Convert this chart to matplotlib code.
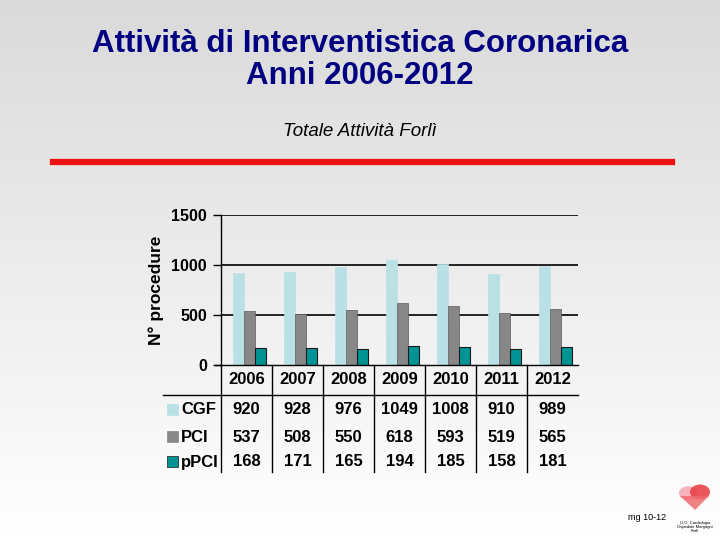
import numpy as np
import matplotlib
matplotlib.use("Agg")
import matplotlib.pyplot as plt
import matplotlib.transforms as mtransforms
from matplotlib.patches import Rectangle, Circle, Polygon

plt.rcParams['font.family'] = ['Liberation Sans', 'DejaVu Sans']

years = ["2006", "2007", "2008", "2009", "2010", "2011", "2012"]
series_names = ["CGF", "PCI", "pPCI"]
cgf = [920, 928, 976, 1049, 1008, 910, 989]
pci = [537, 508, 550, 618, 593, 519, 565]
ppci = [168, 171, 165, 194, 185, 158, 181]
yticks = [0, 500, 1000, 1500]

colors = ["#b9e0e5", "#878787", "#009393"]
edges = ["#b9e0e5", "#5a5a5a", "#1a1a1a"]

W, H = 720, 540
fig = plt.figure(figsize=(7.2, 5.4), dpi=100)

def fx(x):
    return x / W

def fy(y):
    return 1 - y / H

# background gradient
bg = fig.add_axes([0, 0, 1, 1], zorder=-10)
grad = np.linspace(0, 1, 256).reshape(-1, 1)
top = np.array([0.855, 0.855, 0.855])
bot = np.array([1.0, 1.0, 1.0])
img = top[None, None, :] * (1 - grad[:, :, None]) + bot[None, None, :] * grad[:, :, None]
bg.imshow(img, aspect='auto', extent=[0, 1, 0, 1], origin='upper')
bg.set_xlim(0, 1)
bg.set_ylim(0, 1)
bg.axis('off')

# titles
fig.text(0.5, fy(44), "Attività di Interventistica Coronarica", ha='center', va='center',
         fontsize=22.5, fontweight='bold', color='#000080')
fig.text(0.5, fy(76), "Anni 2006-2012", ha='center', va='center',
         fontsize=22.5, fontweight='bold', color='#000080')
fig.text(0.5, fy(132), "Totale Attività Forlì", ha='center', va='center',
         fontsize=13.5, style='italic', color='black')
fig.add_artist(plt.Line2D([fx(53), fx(672)], [fy(162), fy(162)], color='#ee1111', lw=4.5,
                          transform=fig.transFigure))

# main axes
ax_l, ax_r, ax_t, ax_b = 221, 578, 215, 365
ax = fig.add_axes([fx(ax_l), fy(ax_b), fx(ax_r - ax_l), fy(ax_t) - fy(ax_b)])
ax.patch.set_alpha(0)
x = np.arange(len(years))
bw = 0.215
ax.bar(x - bw + 0.06, cgf, bw, color=colors[0], edgecolor=edges[0], lw=0.5, zorder=3)
ax.bar(x + 0.06, pci, bw, color=colors[1], edgecolor=edges[1], lw=0.5, zorder=3)
ax.bar(x + bw + 0.06, ppci, bw, color=colors[2], edgecolor=edges[2], lw=0.8, zorder=3)
ax.set_xlim(-0.5, len(years) - 0.5)
ax.set_ylim(0, 1500)
ax.set_yticks(yticks)
ax.set_yticklabels([str(t) for t in yticks], fontsize=11.5, fontweight='bold')
ax.set_xticks([])
for t in yticks[1:]:
    ax.axhline(t, color='black', lw=1.2, zorder=1)
for s in ['top', 'right', 'bottom']:
    ax.spines[s].set_visible(False)
ax.spines['left'].set_linewidth(1.0)
ax.tick_params(axis='y', length=6, width=1, pad=4)
ax.set_ylabel("N° procedure", fontsize=12.5, fontweight='bold', labelpad=5)

# data table
tr = mtransforms.blended_transform_factory(ax.transData, fig.transFigure)
line_kw = dict(color='black', lw=1.0)
fig.add_artist(plt.Line2D([fx(215), fx(578)], [fy(365), fy(365)], transform=fig.transFigure, **line_kw))
fig.add_artist(plt.Line2D([fx(163), fx(578)], [fy(395), fy(395)], transform=fig.transFigure, **line_kw))
for i in range(len(years)):
    xb = -0.5 + i
    fig.add_artist(plt.Line2D([xb, xb], [fy(365), fy(472)], transform=tr, **line_kw))

for i, yr in enumerate(years):
    fig.text(i, fy(380), yr, transform=tr, ha='center', va='center', fontsize=12, fontweight='bold')

rows = [cgf, pci, ppci]
row_y = [410, 437, 462]
for r, (name, vals, yy) in enumerate(zip(series_names, rows, row_y)):
    fig.add_artist(Rectangle((fx(167), fy(yy + 5)), fx(11), fy(yy - 6) - fy(yy + 5),
                             facecolor=colors[r], edgecolor=edges[r] if r == 2 else colors[r],
                             lw=0.5, transform=fig.transFigure))
    fig.text(fx(181), fy(yy), name, ha='left', va='center', fontsize=12, fontweight='bold')
    for i, v in enumerate(vals):
        fig.text(i, fy(yy), str(v), transform=tr, ha='center', va='center', fontsize=12,
                 fontweight='bold')

# footer
fig.text(fx(628), fy(517), "mg 10-12", ha='left', va='center', fontsize=6.5)
for cx, cy, r, c in [(688, 493, 9, '#f4a7b4'), (700, 492, 10, '#e8393f')]:
    fig.add_artist(Circle((fx(cx), fy(cy)), r / W, facecolor=c, edgecolor='none',
                          alpha=0.85, transform=fig.transFigure))
fig.add_artist(Polygon([(fx(680), fy(496)), (fx(709), fy(496)), (fx(695), fy(510))],
                       closed=True, facecolor='#ef6b70', edgecolor='none', alpha=0.85,
                       transform=fig.transFigure))
fig.text(fx(695), fy(527), "U.O. Cardiologia\nOspedale Morgagni\nForlì", ha='center', va='center',
         fontsize=3, linespacing=1.1)

fig.savefig("out.png", dpi=100)
